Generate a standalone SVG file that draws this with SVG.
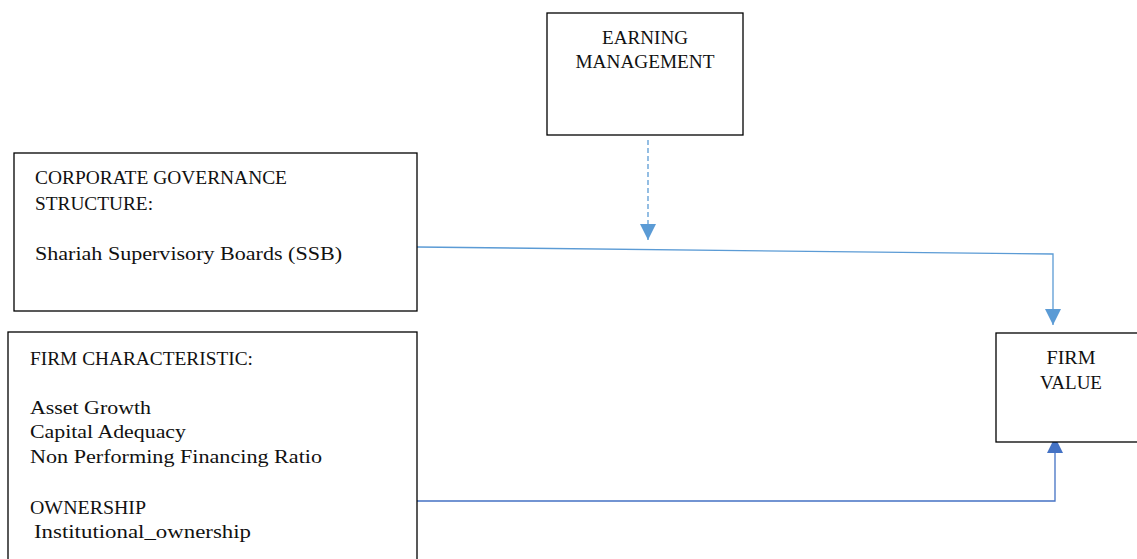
<svg xmlns="http://www.w3.org/2000/svg" width="1137" height="559" viewBox="0 0 1137 559">
<style>
.box{fill:#fff;stroke:#000;stroke-width:1.3}
.t{font-family:"Liberation Serif","DejaVu Serif",serif;font-size:19px;fill:#111}
.c{text-anchor:middle}
.l1{fill:none;stroke:#5B9BD5;stroke-width:1.3}
.l2{fill:none;stroke:#4472C4;stroke-width:1.3}
</style>
<defs>
<marker id="a1" markerWidth="16" markerHeight="16" refX="16" refY="8" orient="auto" markerUnits="userSpaceOnUse" viewBox="0 0 16 16"><path d="M0,0 L16,8 L0,16 z" fill="#5B9BD5"/></marker>
<marker id="a2" markerWidth="16" markerHeight="16" refX="16" refY="8" orient="auto" markerUnits="userSpaceOnUse" viewBox="0 0 16 16"><path d="M0,0 L16,8 L0,16 z" fill="#4472C4"/></marker>
</defs>
<rect width="1137" height="559" fill="#fff"/>
<g id="connectors">
<line class="l1" x1="648" y1="140" x2="648" y2="240" stroke-dasharray="5,3" marker-end="url(#a1)"/>
<polyline class="l1" points="417,247 1053,254 1053,325" marker-end="url(#a1)"/>
<polyline class="l2" points="417,501 1055,501 1055,437" marker-end="url(#a2)"/>
</g>
<g id="earning-management">
<rect class="box" x="547" y="13" width="196" height="122"/>
<text class="t c" x="645" y="44" textLength="86" lengthAdjust="spacingAndGlyphs">EARNING</text>
<text class="t c" x="645" y="68" textLength="139" lengthAdjust="spacingAndGlyphs">MANAGEMENT</text>
</g>
<g id="corporate-governance">
<rect class="box" x="14" y="153" width="403" height="158"/>
<text class="t" x="35" y="184" textLength="252" lengthAdjust="spacingAndGlyphs">CORPORATE GOVERNANCE</text>
<text class="t" x="35" y="210" textLength="118" lengthAdjust="spacingAndGlyphs">STRUCTURE:</text>
<text class="t" x="35" y="260" textLength="307" lengthAdjust="spacingAndGlyphs">Shariah Supervisory Boards (SSB)</text>
</g>
<g id="firm-characteristic">
<rect class="box" x="8" y="332" width="409" height="240"/>
<text class="t" x="30" y="365" textLength="223" lengthAdjust="spacingAndGlyphs">FIRM CHARACTERISTIC:</text>
<text class="t" x="30" y="414" textLength="121" lengthAdjust="spacingAndGlyphs">Asset Growth</text>
<text class="t" x="30" y="438" textLength="156" lengthAdjust="spacingAndGlyphs">Capital Adequacy</text>
<text class="t" x="30" y="463" textLength="292" lengthAdjust="spacingAndGlyphs">Non Performing Financing Ratio</text>
<text class="t" x="30" y="514" textLength="116" lengthAdjust="spacingAndGlyphs">OWNERSHIP</text>
<text class="t" x="34" y="538" textLength="217" lengthAdjust="spacingAndGlyphs">Institutional_ownership</text>
</g>
<g id="firm-value">
<rect class="box" x="996" y="333" width="150" height="109"/>
<text class="t c" x="1071" y="364" textLength="49" lengthAdjust="spacingAndGlyphs">FIRM</text>
<text class="t c" x="1071" y="389" textLength="62" lengthAdjust="spacingAndGlyphs">VALUE</text>
</g>
</svg>
